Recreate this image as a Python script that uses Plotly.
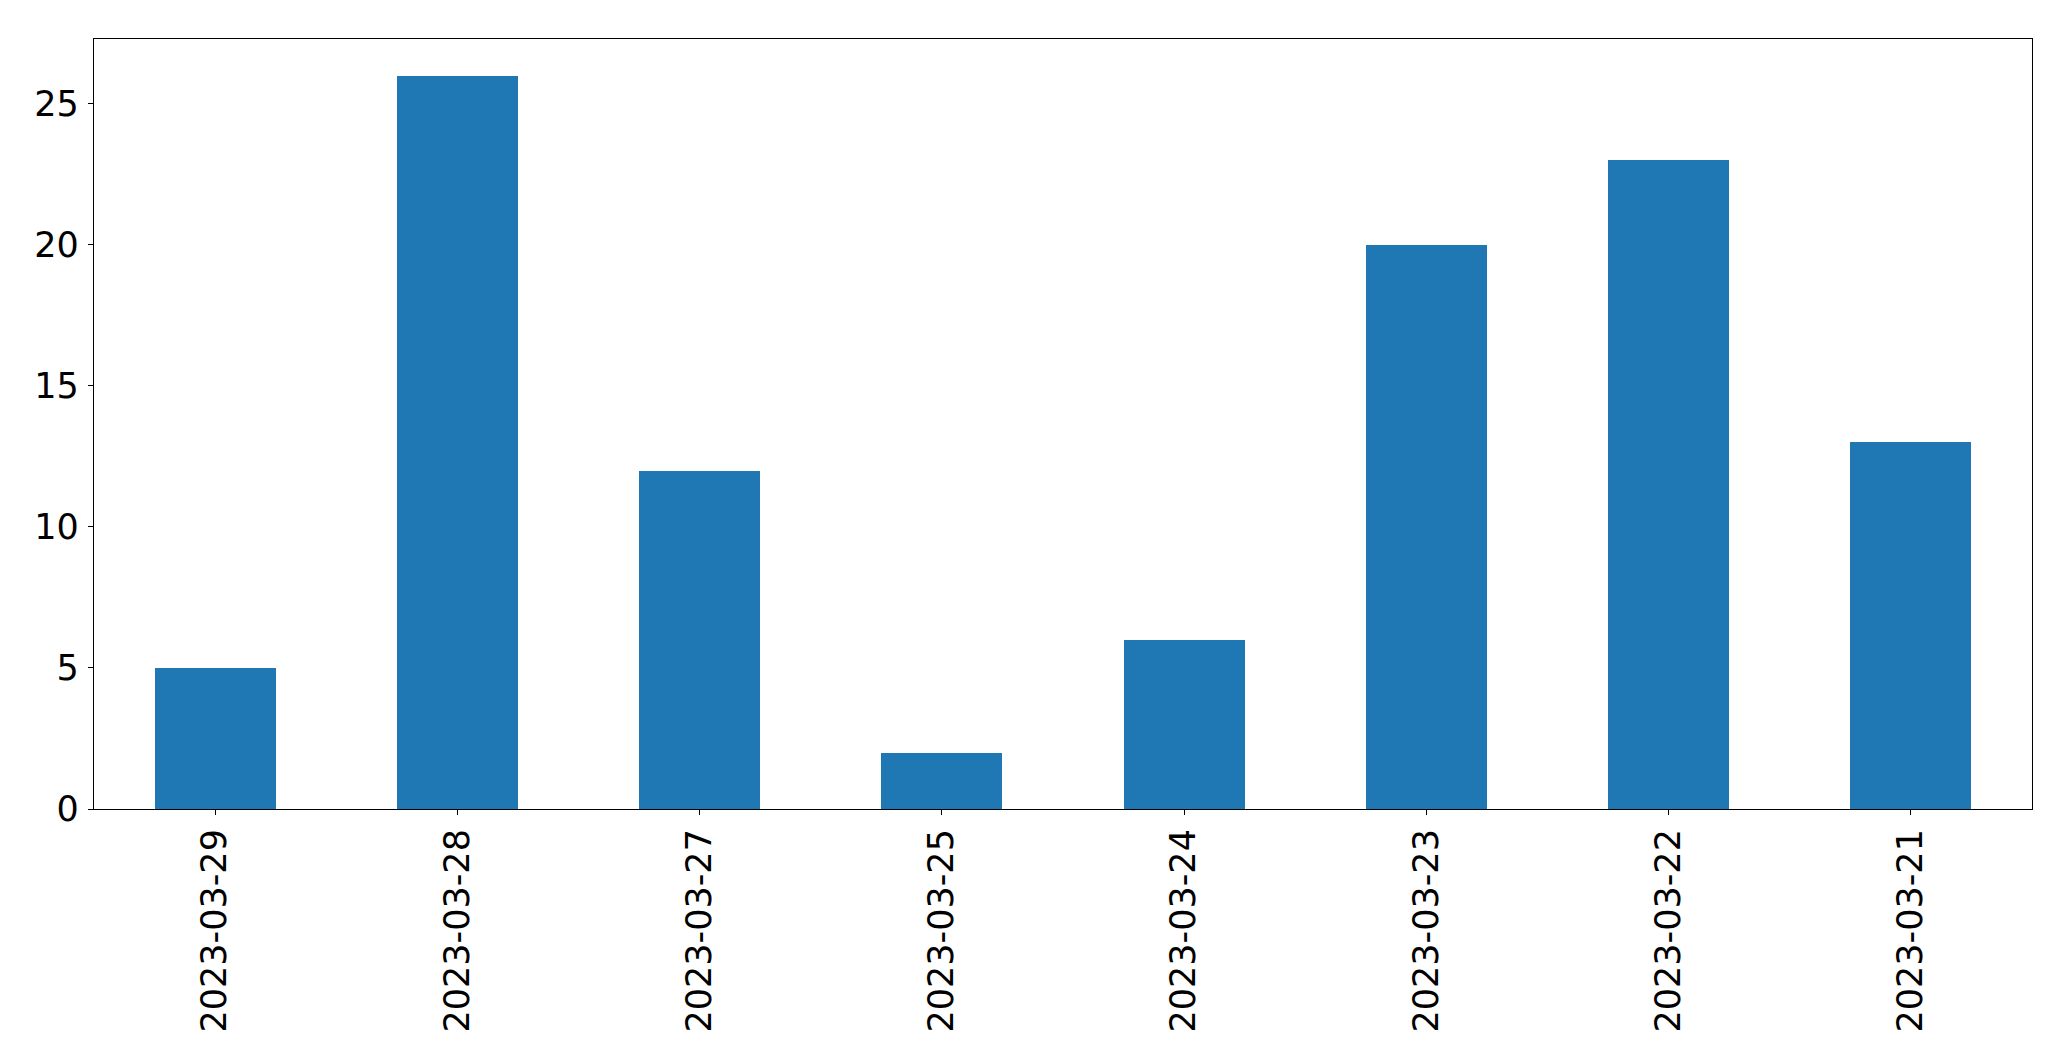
import plotly.graph_objects as go

dates = ["2023-03-29", "2023-03-28", "2023-03-27", "2023-03-25",
         "2023-03-24", "2023-03-23", "2023-03-22", "2023-03-21"]
counts = [5, 26, 12, 2, 6, 20, 23, 13]
y_ticks = [0, 5, 10, 15, 20, 25]

fig = go.Figure()
fig.add_trace(go.Bar(
    x=dates, y=counts, width=0.5,
    marker=dict(color="#1f77b4", line=dict(width=0)),
))

axis_common = dict(
    showline=True, mirror=True, linecolor="black", linewidth=1.2,
    ticks="outside", ticklen=5, tickwidth=1.2, tickcolor="black",
    showgrid=False, zeroline=False,
    tickfont=dict(family="DejaVu Sans", size=35, color="black"),
)

fig.update_layout(
    width=2071, height=1061,
    margin=dict(l=94, r=39, t=39, b=252, pad=0),
    paper_bgcolor="white", plot_bgcolor="white",
    showlegend=False,
    bargap=0,
)
fig.update_xaxes(type="category", range=[-0.5, 7.5], tickangle=-90,
                 ticklabelstandoff=0, **axis_common)
fig.update_yaxes(range=[0, 27.3], tickvals=y_ticks,
                 ticklabelstandoff=2, **axis_common)

fig.write_html("out.html", config={"displayModeBar": False},
               post_script="document.body.style.margin='0';document.body.style.overflow='hidden';")
